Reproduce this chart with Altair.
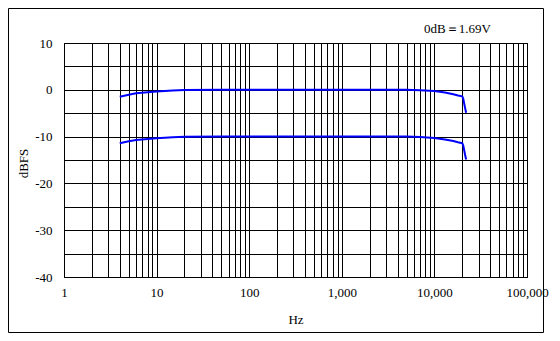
import altair as alt
import pandas as pd

# Frequencies (Hz)
freqs = [4, 5, 6, 8, 10, 15, 20, 50, 100, 1000, 5000, 7000, 10000, 13000, 16000, 18000, 20000, 20500, 21300, 22000]
# Upper trace (0 dBFS level)
upper_db = [-1.5, -1.05, -0.75, -0.5, -0.35, -0.15, -0.05, 0.0, 0.0, 0.0, 0.0, -0.1, -0.28, -0.6, -0.95, -1.2, -1.4, -1.9, -3.6, -4.9]
# Lower trace (-10 dBFS level)
lower_db = [-11.4, -11.0, -10.75, -10.5, -10.35, -10.15, -10.05, -10.0, -10.0, -10.0, -10.0, -10.1, -10.28, -10.6, -10.95, -11.2, -11.4, -11.9, -13.6, -14.9]

x_grid = [k * 10 ** d for d in range(5) for k in range(1, 10)] + [100000]
y_grid = list(range(-40, 11, 5))
note = "0dB＝1.69V"

rows = []
for f, u, l in zip(freqs, upper_db, lower_db):
    rows.append({"Hz": f, "dBFS": u, "series": "upper"})
    rows.append({"Hz": f, "dBFS": l, "series": "lower"})
df = pd.DataFrame(rows)

FONT = "Liberation Serif, Times New Roman, serif"

lines = alt.Chart(df).mark_line(color="#0000ff", strokeWidth=2).encode(
    x=alt.X("Hz:Q",
            scale=alt.Scale(type="log", domain=[1, 100000], nice=False),
            axis=alt.Axis(values=x_grid, title="Hz", grid=True, ticks=False, domain=False,
                          labelExpr="abs(log(datum.value)/LN10 - round(log(datum.value)/LN10)) < 0.000001 ? format(datum.value, ',') : ''",
                          labelOverlap=False, labelFlush=False, labelPadding=9,
                          titleY=42, titleBaseline="middle")),
    y=alt.Y("dBFS:Q",
            scale=alt.Scale(domain=[-40, 10], nice=False),
            axis=alt.Axis(values=y_grid, title="dBFS", grid=True, ticks=False, domain=False,
                          labelExpr="datum.value % 10 == 0 ? toString(datum.value) : ''",
                          labelOverlap=False, labelFlush=False, labelPadding=12,
                          titleX=-41, titleY=120, titleBaseline="middle")),
    detail="series:N",
)

note_layer = alt.Chart(pd.DataFrame({"t": [note]})).mark_text(
    font=FONT, fontSize=13, align="left", baseline="middle", color="black"
).encode(text="t:N", x=alt.value(360), y=alt.value(-14))

frame = alt.Chart(pd.DataFrame({"a": [0]})).mark_rect(
    fillOpacity=0, stroke="black", strokeWidth=1
).encode(x=alt.value(-55.5), x2=alt.value(479.5), y=alt.value(-34.5), y2=alt.value(289.5))

chart = alt.layer(lines, note_layer, frame).properties(
    width=463, height=234,
    autosize=alt.AutoSizeParams(type="none"),
    padding={"left": 56, "top": 35, "right": 25, "bottom": 56},
    background="white",
).configure_view(stroke="black", strokeWidth=1).configure_axis(
    gridColor="black", gridOpacity=1, gridWidth=1,
    labelFont=FONT, labelFontSize=13, labelColor="black",
    titleFont=FONT, titleFontSize=13, titleColor="black", titleFontWeight="normal",
)

chart.save("out.html", embed_options={"renderer": "svg", "actions": False})
